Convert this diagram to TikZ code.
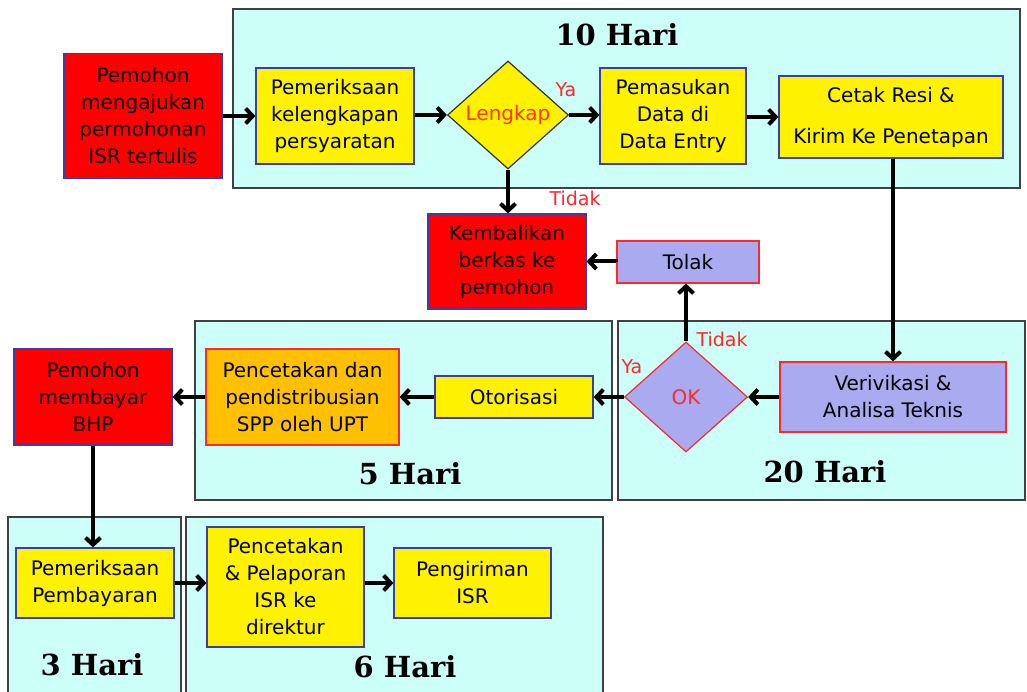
\documentclass[tikz,border=0pt]{standalone}
\usepackage{fontspec}
\setmainfont{DejaVu Sans}
\newfontfamily\harifont{DejaVu Serif}
\usetikzlibrary{shapes.geometric,arrows.meta}
\definecolor{cyanbg}{RGB}{204,255,247}
\definecolor{boxblue}{RGB}{60,60,170}
\definecolor{lav}{RGB}{170,170,240}
\definecolor{orng}{RGB}{255,192,0}
\definecolor{lred}{RGB}{255,40,40}
\definecolor{lengkapred}{RGB}{255,51,0}
\begin{document}
\begin{tikzpicture}[x=1pt,y=-1pt,
  region/.style={fill=cyanbg,draw=black!75,line width=1.3pt},
  base/.style={draw,line width=1.2pt,align=center,inner sep=0pt,font=\fontsize{20}{27}\selectfont},
  redbox/.style={base,fill=red,draw=boxblue},
  yelbox/.style={base,fill=yellow,draw=boxblue},
  lavbox/.style={base,fill=lav,draw=lred},
  orgbox/.style={base,fill=orng,draw=lred},
  decision/.style={diamond,base},
  arr/.style={line width=4pt,-{Straight Barb[length=7pt,width=15pt]}},
  hari/.style={inner sep=0pt,font=\harifont\bfseries\fontsize{29}{30}\selectfont},
  lbl/.style={text=lred,font=\fontsize{19}{20}\selectfont,inner sep=0pt}]
\useasboundingbox[fill=white] (0,0) rectangle (1027,692);
% regions
\path[region] (233,9) rectangle (1020,188);
\path[region] (195,321) rectangle (612,500);
\path[region] (618,321) rectangle (1025,500);
\fill[cyanbg] (8,517) rectangle (181,692);
\draw[black!75,line width=1.3pt] (8,692) -- (8,517) -- (181,517) -- (181,692);
\fill[cyanbg] (186,517) rectangle (603,692);
\draw[black!75,line width=1.3pt] (186,692) -- (186,517) -- (603,517) -- (603,692);
% region labels
\node[hari] (h10) at (617,35) {10 Hari};
\node[hari] (h5) at (410,474) {5 Hari};
\node[hari] (h20) at (825,472) {20 Hari};
\node[hari] (h3) at (92,665) {3 Hari};
\node[hari] (h6) at (405,667) {6 Hari};
% nodes
\node[redbox,minimum width=158pt,minimum height=125pt] (p1) at (143,116) {Pemohon\\mengajukan\\permohonan\\ISR tertulis};
\node[yelbox,minimum width=158pt,minimum height=96pt] (n1) at (335,116) {Pemeriksaan\\kelengkapan\\persyaratan};
\node[decision,fill=yellow,draw=black!80,minimum width=121pt,minimum height=108pt,text=lengkapred] (d1) at (508,115) {Lengkap};
\node[yelbox,minimum width=146pt,minimum height=96pt] (n2) at (673,116) {Pemasukan\\Data di\\Data Entry};
\node[yelbox,minimum width=224pt,minimum height=82pt,font=\fontsize{20}{41}\selectfont] (n3) at (891,117) {Cetak Resi \&\\Kirim Ke Penetapan};
\node[redbox,minimum width=158pt,minimum height=95pt] (k) at (507,261.5) {Kembalikan\\berkas ke\\pemohon};
\node[lavbox,minimum width=142pt,minimum height=42pt] (t) at (688,262) {Tolak};
\node[redbox,minimum width=158pt,minimum height=96pt] (b) at (93,397) {Pemohon\\membayar\\BHP};
\node[orgbox,minimum width=193pt,minimum height=96pt] (o) at (302.5,397) {Pencetakan dan\\pendistribusian\\SPP oleh UPT};
\node[yelbox,minimum width=158pt,minimum height=42pt] (ot) at (514,397) {Otorisasi};
\node[decision,fill=lav,draw=lred,minimum width=123pt,minimum height=110pt,text=lred] (d2) at (686,397) {OK};
\node[lavbox,minimum width=226pt,minimum height=70pt] (v) at (893,397) {Verivikasi \&\\Analisa Teknis};
\node[yelbox,minimum width=158pt,minimum height=70pt] (pp) at (95,583) {Pemeriksaan\\Pembayaran};
\node[yelbox,minimum width=157pt,minimum height=120pt] (pc) at (285.5,587) {Pencetakan\\\& Pelaporan\\ISR ke\\direktur};
\node[yelbox,minimum width=157pt,minimum height=70pt] (pi) at (472.5,583) {Pengiriman\\ISR};
% labels
\node[lbl] (ya1) at (566,90) {Ya};
\node[lbl] (td1) at (575,198) {Tidak};
\node[lbl] (td2) at (722,339) {Tidak};
\node[lbl] (ya2) at (632,367) {Ya};
% connectors
\draw[arr] (p1.east) -- (p1.east -| n1.west);
\draw[arr] (n1.east |- d1.west) -- (d1.west);
\draw[arr] (d1.east) -- (d1.east -| n2.west);
\draw[arr] (n2.east |- n3.west) -- (n3.west);
\draw[arr] (n3.south -| v.north) -- (v.north);
\draw[arr] (d1.south) -- (d1.south |- k.north);
\draw[arr] (t.west) -- (k.east -| t.west) -- (k.east);
\draw[arr] (d2.north) -- (t.south -| d2.north);
\draw[arr] (v.west) -- (d2.east);
\draw[arr] (d2.west) -- (ot.east);
\draw[arr] (ot.west) -- (o.east);
\draw[arr] (o.west) -- (b.east);
\draw[arr] (b.south) -- (b.south |- pp.north);
\draw[arr] (pp.east) -- (pp.east -| pc.west);
\draw[arr] (pi.west -| pc.east) -- (pi.west);
\end{tikzpicture}
\end{document}
